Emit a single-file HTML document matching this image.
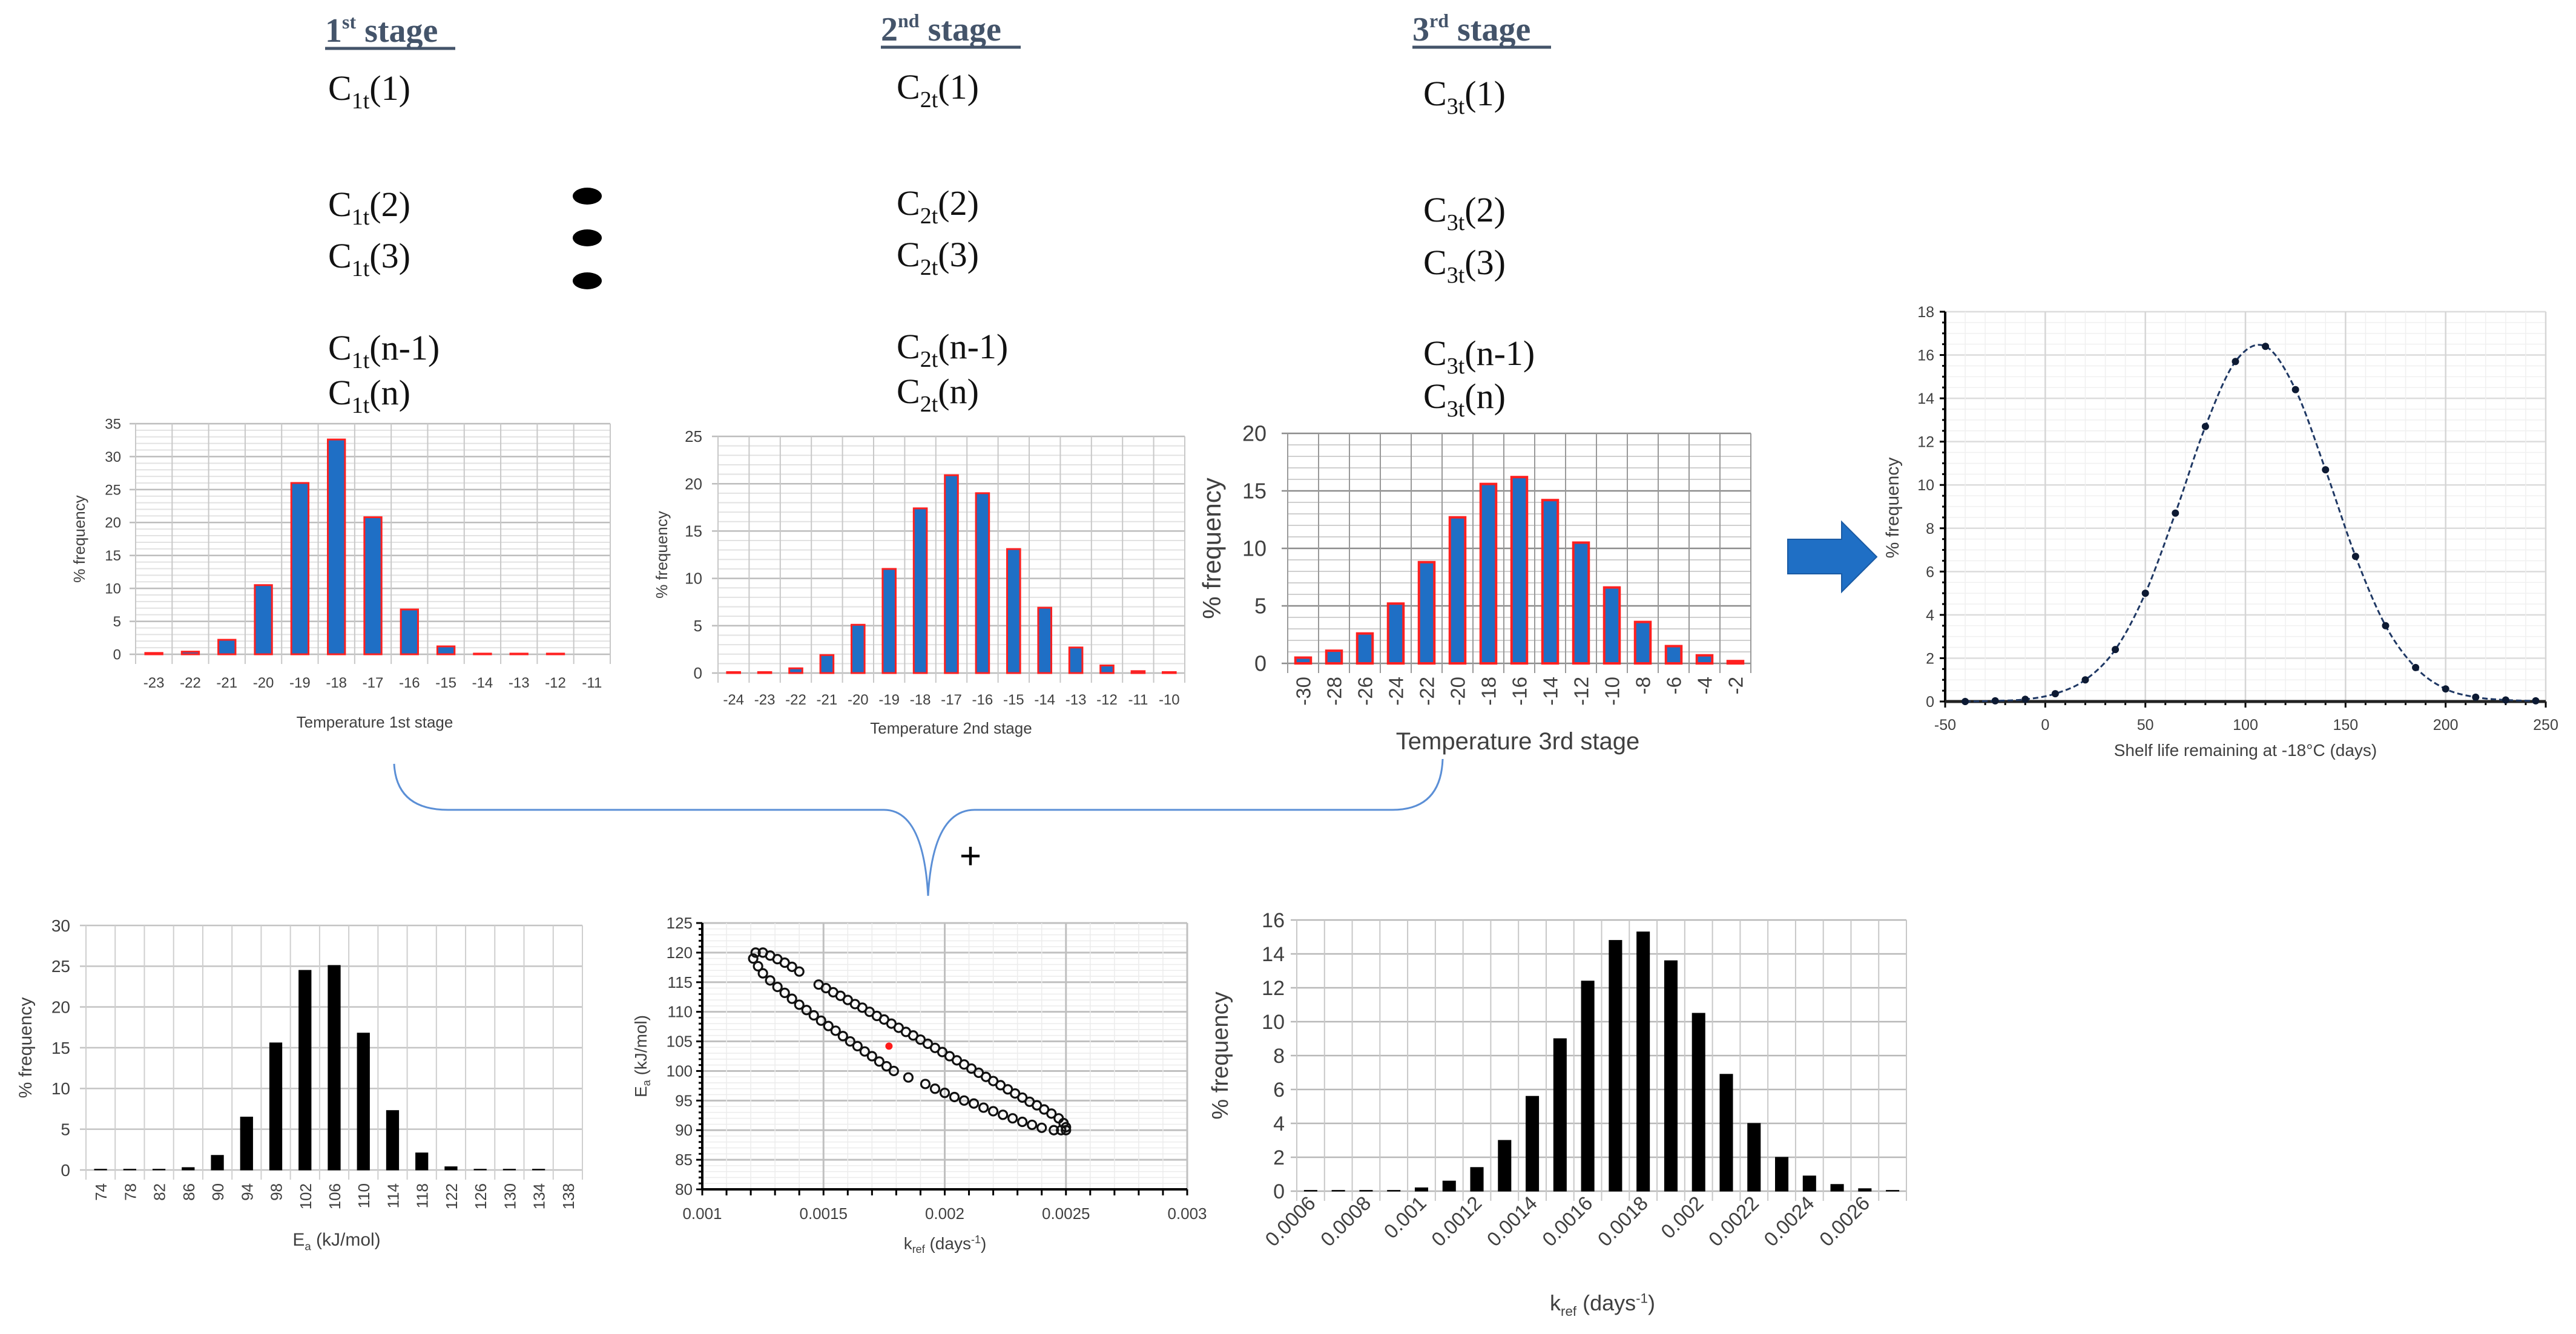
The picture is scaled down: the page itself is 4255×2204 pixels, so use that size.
<!DOCTYPE html>
<html><head><meta charset="utf-8"><title>Shelf life simulation figure</title>
<style>
html,body{margin:0;padding:0;background:#fff;}
svg{display:block;}
.ser{font-family:"Liberation Serif",serif;}
.sans{font-family:"Liberation Sans",sans-serif;}
</style></head>
<body>
<svg id="fig" width="4255" height="2204" viewBox="0 0 4255 2204" xmlns="http://www.w3.org/2000/svg">
<rect x="0" y="0" width="4255" height="2204" fill="#fff"/>

<!-- stage headings -->
<g class="ser" font-weight="bold" fill="#44546a" font-size="56">
  <text x="537" y="69">1<tspan font-size="32" dy="-22">st</tspan><tspan dy="22"> stage</tspan></text>
  <line x1="537" y1="80" x2="752" y2="80" stroke="#44546a" stroke-width="5"/>
  <text x="1455" y="67">2<tspan font-size="32" dy="-22">nd</tspan><tspan dy="22"> stage</tspan></text>
  <line x1="1455" y1="78" x2="1686" y2="78" stroke="#44546a" stroke-width="5"/>
  <text x="2333" y="67">3<tspan font-size="32" dy="-22">rd</tspan><tspan dy="22"> stage</tspan></text>
  <line x1="2333" y1="78" x2="2562" y2="78" stroke="#44546a" stroke-width="5"/>
</g>

<g class="ser" font-size="58" fill="#111">
  <text x="542" y="165">C<tspan font-size="38" dy="14">1t</tspan><tspan dy="-14">(1)</tspan></text>
  <text x="542" y="357">C<tspan font-size="38" dy="14">1t</tspan><tspan dy="-14">(2)</tspan></text>
  <text x="542" y="442">C<tspan font-size="38" dy="14">1t</tspan><tspan dy="-14">(3)</tspan></text>
  <text x="542" y="594">C<tspan font-size="38" dy="14">1t</tspan><tspan dy="-14">(n-1)</tspan></text>
  <text x="542" y="668">C<tspan font-size="38" dy="14">1t</tspan><tspan dy="-14">(n)</tspan></text>

  <text x="1481" y="163">C<tspan font-size="38" dy="14">2t</tspan><tspan dy="-14">(1)</tspan></text>
  <text x="1481" y="355">C<tspan font-size="38" dy="14">2t</tspan><tspan dy="-14">(2)</tspan></text>
  <text x="1481" y="440">C<tspan font-size="38" dy="14">2t</tspan><tspan dy="-14">(3)</tspan></text>
  <text x="1481" y="592">C<tspan font-size="38" dy="14">2t</tspan><tspan dy="-14">(n-1)</tspan></text>
  <text x="1481" y="666">C<tspan font-size="38" dy="14">2t</tspan><tspan dy="-14">(n)</tspan></text>

  <text x="2351" y="174">C<tspan font-size="38" dy="14">3t</tspan><tspan dy="-14">(1)</tspan></text>
  <text x="2351" y="366">C<tspan font-size="38" dy="14">3t</tspan><tspan dy="-14">(2)</tspan></text>
  <text x="2351" y="453">C<tspan font-size="38" dy="14">3t</tspan><tspan dy="-14">(3)</tspan></text>
  <text x="2351" y="603">C<tspan font-size="38" dy="14">3t</tspan><tspan dy="-14">(n-1)</tspan></text>
  <text x="2351" y="674">C<tspan font-size="38" dy="14">3t</tspan><tspan dy="-14">(n)</tspan></text>
</g>

<g fill="#000">
  <ellipse cx="970" cy="324" rx="24" ry="14"/>
  <ellipse cx="970" cy="393" rx="24" ry="14"/>
  <ellipse cx="970" cy="464" rx="24" ry="14"/>
</g>

<polygon points="2953,891 3042,891 3042,862 3100,920 3042,978 3042,948 2953,948" fill="#1f6fc5" stroke="#1a5aa3" stroke-width="2"/>

<path d="M651,1262 Q655,1338 740,1338 L1460,1338 Q1525,1338 1533,1480 Q1541,1338 1610,1338 L2300,1338 Q2380,1338 2383,1254" fill="none" stroke="#5b8fd6" stroke-width="3"/>
<text x="1603" y="1435" class="sans" font-size="62" text-anchor="middle" fill="#000">+</text>

<g id="charts"></g>
</svg>

<script>
// ---------- DATA ----------
const c1Cats = [-23,-22,-21,-20,-19,-18,-17,-16,-15,-14,-13,-12,-11];
const c1Vals = [0.2,0.4,2.2,10.5,26,32.6,20.8,6.8,1.2,0.1,0.1,0.1,null];
const c2Cats = [-24,-23,-22,-21,-20,-19,-18,-17,-16,-15,-14,-13,-12,-11,-10];
const c2Vals = [0.1,0.1,0.5,1.9,5.1,11,17.4,20.9,19,13.1,6.9,2.7,0.8,0.2,0.1];
const c3Cats = [-30,-28,-26,-24,-22,-20,-18,-16,-14,-12,-10,-8,-6,-4,-2];
const c3Vals = [0.5,1.1,2.6,5.2,8.8,12.7,15.6,16.2,14.2,10.5,6.6,3.6,1.5,0.7,0.2];
const eaCats = [74,78,82,86,90,94,98,102,106,110,114,118,122,126,130,134,138];
const eaVals = [0.1,0.1,0.1,0.3,1.8,6.5,15.6,24.5,25.1,16.8,7.3,2.1,0.4,0.1,0.1,0.1,null];
const kCats = [0.0006,0.0007,0.0008,0.0009,0.001,0.0011,0.0012,0.0013,0.0014,0.0015,0.0016,0.0017,0.0018,0.0019,0.002,0.0021,0.0022,0.0023,0.0024,0.0025,0.0026,0.0027];
const kVals = [0.05,0.05,0.05,0.05,0.2,0.6,1.4,3.0,5.6,9.0,12.4,14.8,15.3,13.6,10.5,6.9,4.0,2.0,0.9,0.4,0.15,0.05];
const kLabels = ["0.0006","","0.0008","","0.001","","0.0012","","0.0014","","0.0016","","0.0018","","0.002","","0.0022","","0.0024","","0.0026",""];
const shelfDays = [-40,-25,-10,5,20,35,50,65,80,95,110,125,140,155,170,185,200,215,230,245];
const shelfFreq = [0,0.03,0.1,0.36,1.0,2.4,5.0,8.7,12.7,15.7,16.4,14.4,10.7,6.7,3.5,1.57,0.58,0.2,0.07,0.03];
const shelfXTicks = [-50,0,50,100,150,200,250];
const shelfYTicks = [0,2,4,6,8,10,12,14,16,18];
const scatK = [0.00148,0.00151,0.00154,0.00157,0.00160,0.00163,0.00166,0.00169,0.00172,0.00175,0.00178,0.00181,0.00184,0.00187,0.00190,0.00193,0.00196,0.00199,0.00202,0.00205,0.00208,0.00211,0.00214,0.00217,0.00220,0.00223,0.00226,0.00229,0.00232,0.00235,0.00238,0.00241,0.00244,0.00247,0.00249,0.00250,0.00250,
 0.00248,0.00245,0.00240,0.00236,0.00232,0.00228,0.00224,0.00220,0.00216,0.00212,0.00208,0.00204,0.00200,0.00196,0.00192,0.00185,0.00179,0.00176,0.00173,0.00170,0.00167,0.00164,0.00161,0.00158,0.00155,0.00152,0.00149,0.00146,0.00143,0.00140,0.00137,0.00134,0.00131,0.00128,0.00125,0.00123,0.00121,0.00122,0.00125,
 0.00128,0.00131,0.00134,0.00137,0.00140];
const scatE = [114.6,114.0,113.3,112.7,112.0,111.3,110.7,110.0,109.3,108.7,108.0,107.3,106.6,106.0,105.3,104.6,103.9,103.2,102.5,101.8,101.1,100.4,99.7,99.0,98.3,97.6,96.9,96.2,95.5,94.8,94.2,93.5,92.8,92.0,91.2,90.5,90.0,
 90.0,90.0,90.4,90.9,91.4,92.0,92.6,93.2,93.8,94.5,95.0,95.6,96.3,97.0,97.8,98.9,100.0,100.8,101.6,102.5,103.3,104.2,105.0,105.9,106.8,107.6,108.5,109.4,110.3,111.2,112.2,113.2,114.2,115.3,116.5,117.7,119.0,120.0,120.0,
 119.5,118.9,118.3,117.6,116.8];
const redK = [0.00177];
const redE = [104.2];
const scatXTicks = [0.001,0.0015,0.002,0.0025,0.003];
const scatXLabels = ["0.001","0.0015","0.002","0.0025","0.003"];
const scatYTicks = [80,85,90,95,100,105,110,115,120,125];

// ---------- HELPERS ----------
const NS = 'http://www.w3.org/2000/svg';
const root = document.getElementById('charts');
function mk(tag, attrs, parent) {
  const e = document.createElementNS(NS, tag);
  for (const k in attrs) e.setAttribute(k, attrs[k]);
  (parent || root).appendChild(e);
  return e;
}
const FONT = '"Liberation Sans", sans-serif';

function barChart(o, cats, vals, labels) {
  const g = mk('g', {});
  
  
  const n = cats.length, bw = (o.x1 - o.x0) / n;
  const yS = v => o.yb - (v / o.ymax) * (o.yb - o.yt);
  const xC = i => o.x0 + bw * (i + 0.5);
  if (o.minor) {
    const m = Math.round(o.ymax / o.minor);
    for (let i = 0; i <= m; i++) {
      const y = yS(i * o.minor);
      const ln = mk('line', {x1: o.x0, x2: o.x1, y1: y, y2: y, stroke: o.minorColor, 'stroke-width': 2}, g);
      
      
    }
  }
  const M = Math.round(o.ymax / o.major);
  for (let i = 0; i <= M; i++) {
    const v = i * o.major, y = yS(v);
    const ln = mk('line', {x1: o.x0 - 10, x2: o.x1, y1: y, y2: y, stroke: o.majorColor, 'stroke-width': 2.5}, g);
    
    
    const t = mk('text', {x: o.yLabX, y: y + o.tickFs * 0.35, 'text-anchor': 'end', 'font-family': FONT, 'font-size': o.tickFs, fill: '#404040'}, g);
    t.textContent = String(v);
    
    
  }
  for (let i = 0; i <= n; i++) {
    const x = o.x0 + bw * i;
    const ln = mk('line', {x1: x, x2: x, y1: o.yt, y2: o.yb + 16, stroke: o.vColor, 'stroke-width': 2}, g);
    
    
  }
  const w = bw * o.barFrac;
  for (let i = 0; i < n; i++) {
    if (vals[i] === null) continue;
    const y = yS(vals[i]);
    const r = mk('rect', {x: xC(i) - w / 2, y: y, width: w, height: Math.max(o.yb - y, 1), fill: o.fill, stroke: o.stroke, 'stroke-width': o.sw}, g);
    
    
  }
  for (let i = 0; i < n; i++) {
    const lab = labels ? labels[i] : String(cats[i]);
    if (!lab) continue;
    let t;
    if (o.rot === 0) {
      t = mk('text', {x: xC(i), y: o.labY, 'text-anchor': 'middle', 'font-family': FONT, 'font-size': o.labFs, fill: '#404040'}, g);
    } else {
      const lx = xC(i) + o.labDx, ly = o.labY;
      t = mk('text', {x: lx, y: ly, 'text-anchor': 'end', 'font-family': FONT, 'font-size': o.labFs, fill: '#404040', transform: 'rotate(' + o.rot + ' ' + lx + ' ' + ly + ')'}, g);
    }
    t.textContent = lab;
    
    
  }
  const cy = (o.yt + o.yb) / 2;
  const yt = mk('text', {x: o.yTitleX, y: cy, 'text-anchor': 'middle', 'font-family': FONT, 'font-size': o.yTitleFs, fill: '#404040', transform: 'rotate(-90 ' + o.yTitleX + ' ' + cy + ')'}, g);
  yt.textContent = '% frequency';
  
  
  const xt = mk('text', {x: o.titleX, y: o.titleY, 'text-anchor': 'middle', 'font-family': FONT, 'font-size': o.titleFs, fill: '#404040'}, g);
  if (o.titleSub) {
    xt.appendChild(document.createTextNode(o.title[0]));
    const s1 = mk('tspan', {'font-size': o.titleFs * 0.62, dy: o.titleFs * 0.25}, xt);
    s1.textContent = o.titleSub;
    const s2 = mk('tspan', {dy: -o.titleFs * 0.25}, xt);
    s2.textContent = o.title[1];
    if (o.titleSup) {
      const s3 = mk('tspan', {'font-size': o.titleFs * 0.62, dy: -o.titleFs * 0.35}, xt);
      s3.textContent = o.titleSup;
      const s4 = mk('tspan', {dy: o.titleFs * 0.35}, xt);
      s4.textContent = o.title[2];
    }
  } else {
    xt.textContent = o.title;
  }
  
  
}

// ---------- STAGE CHARTS ----------
barChart({name:'chart-stage-1', x0:224, x1:1008, yt:700, yb:1081, ymax:35, major:5, minor:1,
  minorColor:'#e2e2e2', majorColor:'#bdbdbd', vColor:'#c8c8c8', barFrac:0.47, fill:'#1f6fc5', stroke:'#ff2020', sw:3,
  tickFs:24, yLabX:200, labFs:24, labY:1136, rot:0, yTitleX:140, yTitleFs:26, title:'Temperature  1st stage', titleX:619, titleY:1202, titleFs:26},
  c1Cats, c1Vals, null);

barChart({name:'chart-stage-2', x0:1186, x1:1957, yt:721, yb:1112, ymax:25, major:5, minor:1,
  minorColor:'#e2e2e2', majorColor:'#bdbdbd', vColor:'#c8c8c8', barFrac:0.42, fill:'#1f6fc5', stroke:'#ff2020', sw:3,
  tickFs:26, yLabX:1160, labFs:24, labY:1164, rot:0, yTitleX:1102, yTitleFs:26, title:'Temperature  2nd stage', titleX:1571, titleY:1212, titleFs:26},
  c2Cats, c2Vals, null);

barChart({name:'chart-stage-3', x0:2127, x1:2892, yt:716, yb:1096, ymax:20, major:5, minor:1,
  minorColor:'#cfcfcf', majorColor:'#8c8c8c', vColor:'#999', barFrac:0.5, fill:'#1f6fc5', stroke:'#ff2020', sw:4,
  tickFs:36, yLabX:2092, labFs:33, labY:1118, labDx:12, rot:-90, yTitleX:2016, yTitleFs:42, title:'Temperature  3rd stage', titleX:2507, titleY:1238, titleFs:40},
  c3Cats, c3Vals, null);

// ---------- BOTTOM CHARTS ----------
barChart({name:'chart-ea-histogram', x0:142, x1:962, yt:1529, yb:1933, ymax:30, major:5, minor:0,
  minorColor:'#eee', majorColor:'#c4c4c4', vColor:'#cfcfcf', barFrac:0.42, fill:'#000', stroke:'#000', sw:1,
  tickFs:28, yLabX:116, labFs:26, labY:1955, labDx:10, rot:-90, yTitleX:52, yTitleFs:30,
  title:['E',' (kJ/mol)'], titleSub:'a', titleX:556, titleY:2058, titleFs:30},
  eaCats, eaVals, null);

barChart({name:'chart-kref-histogram', x0:2142, x1:3149, yt:1520, yb:1968, ymax:16, major:2, minor:0,
  minorColor:'#eee', majorColor:'#b8b8b8', vColor:'#c8c8c8', barFrac:0.46, fill:'#000', stroke:'#000', sw:1,
  tickFs:34, yLabX:2122, labFs:33, labY:1990, labDx:10, rot:-45, yTitleX:2028, yTitleFs:38,
  title:['k',' (days',')'], titleSub:'ref', titleSup:'-1', titleX:2647, titleY:2165, titleFs:36},
  kCats, kVals, kLabels);

// ---------- SCATTER ----------
(function(){
  const o = {x0:1160, x1:1961, yt:1525, yb:1965, xmin:0.001, xmax:0.003, ymin:80, ymax:125};
  const g = mk('g', {});
  
  
  const xS = v => o.x0 + (v - o.xmin) / (o.xmax - o.xmin) * (o.x1 - o.x0);
  const yS = v => o.yb - (v - o.ymin) / (o.ymax - o.ymin) * (o.yb - o.yt);
  for (let i = 0; i <= 45; i++) {
    const y = yS(80 + i);
    const ln = mk('line', {x1:o.x0, x2:o.x1, y1:y, y2:y, stroke: i % 5 ? '#ececec' : '#c0c0c0', 'stroke-width': i % 5 ? 1.5 : 3}, g);
    
    
    const tk = mk('line', {x1:o.x0 - (i % 5 ? 6 : 10), x2:o.x0, y1:y, y2:y, stroke:'#000', 'stroke-width':3}, g);
    
    
  }
  for (let i = 0; i <= 20; i++) {
    const x = xS(0.001 + i * 0.0001);
    const ln = mk('line', {x1:x, x2:x, y1:o.yt, y2:o.yb, stroke: i % 5 ? '#ececec' : '#c0c0c0', 'stroke-width': i % 5 ? 1.5 : 3}, g);
    
    
    const tk = mk('line', {x1:x, x2:x, y1:o.yb, y2:o.yb + 10, stroke:'#000', 'stroke-width':3}, g);
    
    
  }
  const ax1 = mk('line', {x1:o.x0, x2:o.x0, y1:o.yt, y2:o.yb, stroke:'#000', 'stroke-width':4}, g);
  
  
  const ax2 = mk('line', {x1:o.x0, x2:o.x1, y1:o.yb, y2:o.yb, stroke:'#000', 'stroke-width':4}, g);
  
  
  scatYTicks.forEach(v => {
    const t = mk('text', {x:o.x0 - 16, y:yS(v) + 9, 'text-anchor':'end', 'font-family':FONT, 'font-size':26, fill:'#404040'}, g);
    t.textContent = String(v);
    
    
  });
  scatXTicks.forEach((v, i) => {
    const t = mk('text', {x:xS(v), y:2014, 'text-anchor':'middle', 'font-family':FONT, 'font-size':26, fill:'#404040'}, g);
    t.textContent = scatXLabels[i];
    
    
  });
  for (let i = 0; i < scatK.length; i++) {
    const c = mk('circle', {cx:xS(scatK[i]), cy:yS(scatE[i]), r:7, fill:'none', stroke:'#111', 'stroke-width':3.2}, g);
    
    
  }
  for (let i = 0; i < redK.length; i++) {
    const c = mk('circle', {cx:xS(redK[i]), cy:yS(redE[i]), r:6, fill:'#ff1a1a'}, g);
    
    
  }
  const cy = (o.yt + o.yb) / 2;
  const yt = mk('text', {x:1068, y:cy, 'text-anchor':'middle', 'font-family':FONT, 'font-size':28, fill:'#404040', transform:'rotate(-90 1068 ' + cy + ')'}, g);
  yt.appendChild(document.createTextNode('E'));
  const ys1 = mk('tspan', {'font-size':18, dy:6}, yt); ys1.textContent = 'a';
  const ys2 = mk('tspan', {dy:-6}, yt); ys2.textContent = ' (kJ/mol)';
  
  
  const xt = mk('text', {x:1561, y:2064, 'text-anchor':'middle', 'font-family':FONT, 'font-size':28, fill:'#404040'}, g);
  xt.appendChild(document.createTextNode('k'));
  const xs1 = mk('tspan', {'font-size':18, dy:6}, xt); xs1.textContent = 'ref';
  const xs2 = mk('tspan', {dy:-6}, xt); xs2.textContent = ' (days';
  const xs3 = mk('tspan', {'font-size':18, dy:-10}, xt); xs3.textContent = '-1';
  const xs4 = mk('tspan', {dy:10}, xt); xs4.textContent = ')';
  
  
})();

// ---------- SHELF LIFE CURVE ----------
(function(){
  const o = {x0:3213, x1:4205, yt:515, yb:1159, xmin:-50, xmax:250, ymin:0, ymax:18};
  const g = mk('g', {});
  
  
  const xS = v => o.x0 + (v - o.xmin) / (o.xmax - o.xmin) * (o.x1 - o.x0);
  const yS = v => o.yb - (v - o.ymin) / (o.ymax - o.ymin) * (o.yb - o.yt);
  for (let i = 0; i <= 36; i++) {
    const y = yS(i * 0.5);
    const ln = mk('line', {x1:o.x0, x2:o.x1, y1:y, y2:y, stroke: i % 4 ? '#f0f0f0' : '#dcdcdc', 'stroke-width': i % 4 ? 1.5 : 2.5}, g);
    
    
    const tk = mk('line', {x1:o.x0 - (i % 4 ? 5 : 9), x2:o.x0, y1:y, y2:y, stroke:'#000', 'stroke-width':3}, g);
    
    
  }
  for (let i = 0; i <= 30; i++) {
    const x = xS(-50 + i * 10);
    const ln = mk('line', {x1:x, x2:x, y1:o.yt, y2:o.yb, stroke: i % 5 ? '#f0f0f0' : '#d6d6d6', 'stroke-width': i % 5 ? 1.5 : 2.5}, g);
    
    
    const tk = mk('line', {x1:x, x2:x, y1:o.yb, y2:o.yb + (i % 5 ? 6 : 10), stroke:'#000', 'stroke-width':3}, g);
    
    
  }
  const ax1 = mk('line', {x1:o.x0, x2:o.x0, y1:o.yt, y2:o.yb, stroke:'#000', 'stroke-width':4}, g);
  
  
  const ax2 = mk('line', {x1:o.x0, x2:o.x1, y1:o.yb, y2:o.yb, stroke:'#222', 'stroke-width':5}, g);
  
  
  shelfYTicks.forEach(v => {
    const t = mk('text', {x:o.x0 - 18, y:yS(v) + 9, 'text-anchor':'end', 'font-family':FONT, 'font-size':25, fill:'#404040'}, g);
    t.textContent = String(v);
    
    
  });
  shelfXTicks.forEach(v => {
    const t = mk('text', {x:xS(v), y:1206, 'text-anchor':'middle', 'font-family':FONT, 'font-size':25, fill:'#404040'}, g);
    t.textContent = String(v);
    
    
  });
  const P = shelfDays.map((d, i) => [xS(d), yS(shelfFreq[i])]);
  let d = 'M' + P[0][0] + ',' + P[0][1];
  for (let i = 0; i < P.length - 1; i++) {
    const p0 = P[Math.max(i - 1, 0)], p1 = P[i], p2 = P[i + 1], p3 = P[Math.min(i + 2, P.length - 1)];
    const c1 = [p1[0] + (p2[0] - p0[0]) / 6, p1[1] + (p2[1] - p0[1]) / 6];
    const c2 = [p2[0] - (p3[0] - p1[0]) / 6, p2[1] - (p3[1] - p1[1]) / 6];
    d += ' C' + c1[0] + ',' + c1[1] + ' ' + c2[0] + ',' + c2[1] + ' ' + p2[0] + ',' + p2[1];
  }
  const line = mk('path', {d:d, fill:'none', stroke:'#1f3864', 'stroke-width':3, 'stroke-dasharray':'9 5'}, g);
  
  
  P.forEach(p => {
    const c = mk('circle', {cx:p[0], cy:p[1], r:6, fill:'#0d1a33'}, g);
    
    
  });
  const cy = 839;
  const yt = mk('text', {x:3136, y:cy, 'text-anchor':'middle', 'font-family':FONT, 'font-size':30, fill:'#404040', transform:'rotate(-90 3136 ' + cy + ')'}, g);
  yt.textContent = '% frequency';
  
  
  const xt = mk('text', {x:3709, y:1249, 'text-anchor':'middle', 'font-family':FONT, 'font-size':28, fill:'#404040'}, g);
  xt.textContent = 'Shelf life remaining at -18°C (days)';
  
  
})();
</script>
</body></html>
